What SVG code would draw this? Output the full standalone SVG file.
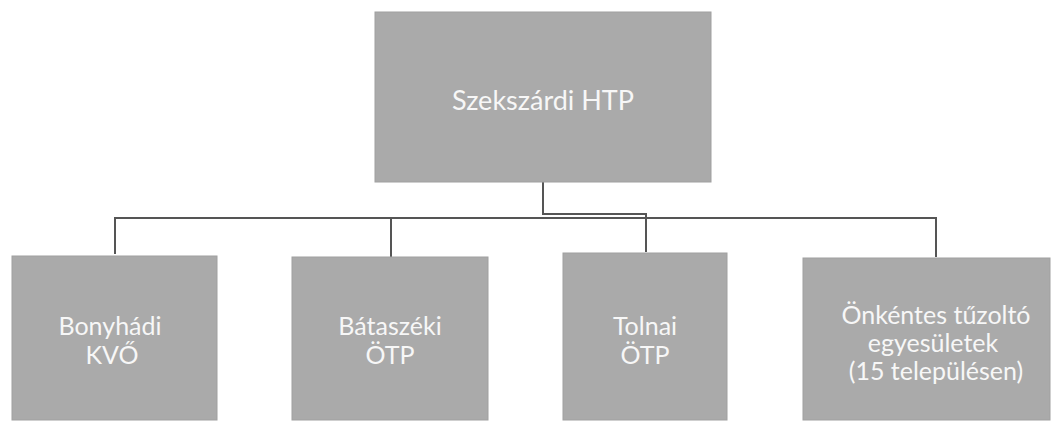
<svg xmlns="http://www.w3.org/2000/svg" width="1056" height="423" viewBox="0 0 1056 423">
<style>
.box{fill:#aaaaaa;stroke:#a0a0a0;stroke-width:1}
.t{font-family:Lato,"Liberation Sans",sans-serif;fill:#f7f7f7;text-anchor:middle}
.big{font-size:27px}
.sm{font-size:25px}
.ln{fill:none;stroke:#555555;stroke-width:2}
</style>
<rect width="1056" height="423" fill="#ffffff"/>
<g id="connectors">
<path class="ln" d="M543,182 V214 H646 V252"/>
<path class="ln" d="M115,254 V218 H936 V257"/>
<path class="ln" d="M391,218 V257"/>
</g>
<g id="n-szekszard">
<rect class="box" x="375" y="12" width="336" height="170"/>
<text class="t big" x="543" y="110">Szekszárdi HTP</text>
</g>
<g id="n-bonyhad">
<rect class="box" x="12" y="256" width="205" height="164"/>
<text class="t sm" x="110" y="335">Bonyhádi</text>
<text class="t sm" x="112" y="364">KVŐ</text>
</g>
<g id="n-bataszek">
<rect class="box" x="292" y="257" width="196" height="163"/>
<text class="t sm" x="390" y="335">Bátaszéki</text>
<text class="t sm" x="390" y="364">ÖTP</text>
</g>
<g id="n-tolna">
<rect class="box" x="563" y="253" width="164" height="167"/>
<text class="t sm" x="645" y="335">Tolnai</text>
<text class="t sm" x="645" y="364">ÖTP</text>
</g>
<g id="n-onkentes">
<rect class="box" x="803" y="258" width="247" height="162"/>
<text class="t sm" x="936" y="324">Önkéntes tűzoltó</text>
<text class="t sm" x="933" y="352">egyesületek</text>
<text class="t sm" x="936" y="380">(15 településen)</text>
</g>
</svg>
